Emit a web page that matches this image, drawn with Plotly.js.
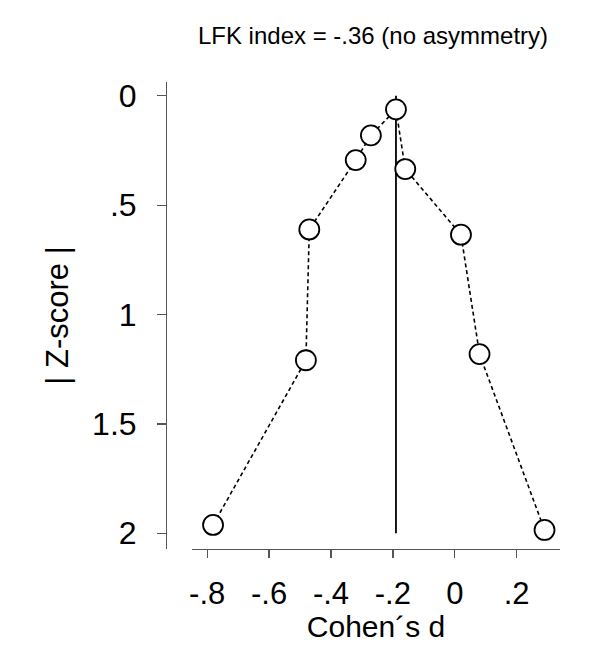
<!DOCTYPE html>
<html>
<head>
<meta charset="utf-8">
<script src="https://cdn.plot.ly/plotly-3.0.1.min.js"></script>
<style>html,body{margin:0;padding:0;background:#fff;}#plot{width:602px;height:648px;}</style>
</head>
<body>
<div id="plot"></div>
<script>
// Doi plot: effect size (Cohen's d) against absolute Z-score, ordered by effect size
const cohensD = [-0.781, -0.481, -0.470, -0.320, -0.271, -0.190, -0.160, 0.020, 0.080, 0.290];
const absZ    = [1.962, 1.209, 0.611, 0.294, 0.181, 0.062, 0.335, 0.635, 1.181, 1.985];

// Vertical reference line at the study with the smallest |Z|
const refX = [-0.190, -0.190];
const refY = [0, 2];

const xTickVals = [-0.8, -0.6, -0.4, -0.2, 0, 0.2];
const xTickText = ['-.8', '-.6', '-.4', '-.2', '0', '.2'];
const yTickVals = [0, 0.5, 1, 1.5, 2];
const yTickText = ['0', '.5', '1', '1.5', '2'];

const titleText = 'LFK index = -.36 (no asymmetry)';
const xTitle = 'Cohen\u00b4s d';
const yTitle = '| Z-score |';

const W = 602, H = 648;
const font = 'Liberation Sans, Arial, Helvetica, sans-serif';

const traces = [
  {
    x: refX, y: refY, type: 'scatter', mode: 'lines',
    line: {color: '#000', width: 1.8},
    hoverinfo: 'skip', showlegend: false
  },
  {
    x: cohensD, y: absZ, type: 'scatter', mode: 'lines+markers',
    line: {color: '#000', width: 1.6, dash: '4px,3px'},
    marker: {size: 20, color: '#fff', line: {color: '#000', width: 1.8}},
    showlegend: false
  }
];

const layout = {
  width: W, height: H,
  margin: {l: 0, r: 0, t: 0, b: 0},
  paper_bgcolor: '#fff', plot_bgcolor: '#fff',
  font: {family: font, color: '#000'},
  title: {
    text: titleText, font: {size: 24, family: font, color: '#000'},
    x: 373 / W, xanchor: 'center', y: 1 - 36 / H, yanchor: 'middle',
    xref: 'paper', yref: 'paper'
  },
  xaxis: {
    domain: [192 / W, 560 / W],
    range: [-0.849, 0.34],
    anchor: 'y',
    showgrid: false, zeroline: false,
    showline: true, linecolor: '#555', linewidth: 1.3,
    ticks: 'outside', ticklen: 8, tickwidth: 1.3, tickcolor: '#555',
    tickvals: xTickVals, ticktext: xTickText,
    tickfont: {size: 31, family: font, color: '#000'},
    ticklabelstandoff: 8,
    title: {text: xTitle, font: {size: 30, family: font, color: '#000'}, standoff: 2}
  },
  yaxis: {
    domain: [1 - 549 / H, 1 - 82 / H],
    range: [2.072, -0.063],
    anchor: 'free', position: 166 / W,
    showgrid: false, zeroline: false,
    showline: true, linecolor: '#555', linewidth: 1.3,
    ticks: 'outside', ticklen: 9, tickwidth: 1.3, tickcolor: '#555',
    tickvals: yTickVals, ticktext: yTickText,
    tickfont: {size: 32, family: font, color: '#000'},
    ticklabelstandoff: 14,
    title: {text: yTitle, font: {size: 31, family: font, color: '#000'}, standoff: 13}
  }
};

Plotly.newPlot('plot', traces, layout, {displayModeBar: false, staticPlot: true});
</script>
</body>
</html>
